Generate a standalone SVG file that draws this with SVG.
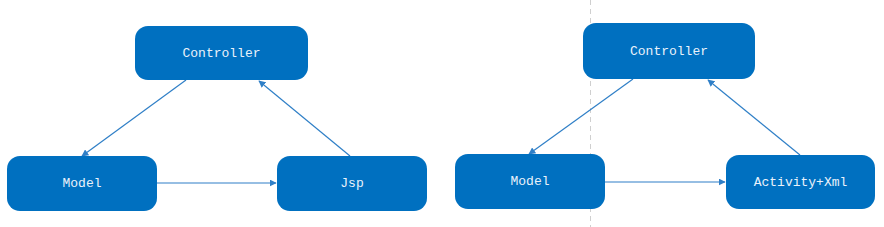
<svg xmlns="http://www.w3.org/2000/svg" width="884" height="227" viewBox="0 0 884 227">
<style>
.box{fill:#0070C0;}
.lbl{font-family:"Liberation Mono","DejaVu Sans Mono",monospace;font-size:13px;fill:#EAF2FB;text-anchor:middle;dominant-baseline:central;}
.edge{stroke:#2F7FC7;stroke-width:1.2;fill:none;marker-end:url(#ah);}
</style>
<defs>
<marker id="ah" viewBox="0 0 10 10" refX="9" refY="5" markerWidth="7" markerHeight="7" orient="auto" markerUnits="userSpaceOnUse">
<path d="M0,0 L10,5 L0,10 z" fill="#2F7FC7"/>
</marker>
</defs>
<rect x="0" y="0" width="884" height="227" fill="#ffffff"/>
<line x1="590.5" y1="0" x2="590.5" y2="227" stroke="#cfcfcf" stroke-width="1" stroke-dasharray="5,4"/>
<g id="connectors">
<line class="edge" x1="186" y1="80" x2="82" y2="156"/>
<line class="edge" x1="157" y1="183" x2="276" y2="183"/>
<line class="edge" x1="350" y1="156" x2="259" y2="81"/>
<line class="edge" x1="633" y1="79" x2="529" y2="154"/>
<line class="edge" x1="604" y1="182" x2="725" y2="182"/>
<line class="edge" x1="800" y1="155" x2="708" y2="80"/>
</g>
<g id="l-controller"><rect class="box" x="135" y="26" width="173" height="54" rx="13"/><text class="lbl" x="221.5" y="53">Controller</text></g>
<g id="l-model"><rect class="box" x="7" y="156" width="150" height="55" rx="13"/><text class="lbl" x="82" y="183.5">Model</text></g>
<g id="l-jsp"><rect class="box" x="277" y="156" width="150" height="55" rx="13"/><text class="lbl" x="352" y="183.5">Jsp</text></g>
<g id="r-controller"><rect class="box" x="583" y="23" width="172" height="56" rx="13"/><text class="lbl" x="669" y="51">Controller</text></g>
<g id="r-model"><rect class="box" x="455" y="154" width="150" height="55" rx="13"/><text class="lbl" x="530" y="181.5">Model</text></g>
<g id="r-activity"><rect class="box" x="726" y="155" width="149" height="54" rx="13"/><text class="lbl" x="800.5" y="182">Activity+Xml</text></g>
</svg>
